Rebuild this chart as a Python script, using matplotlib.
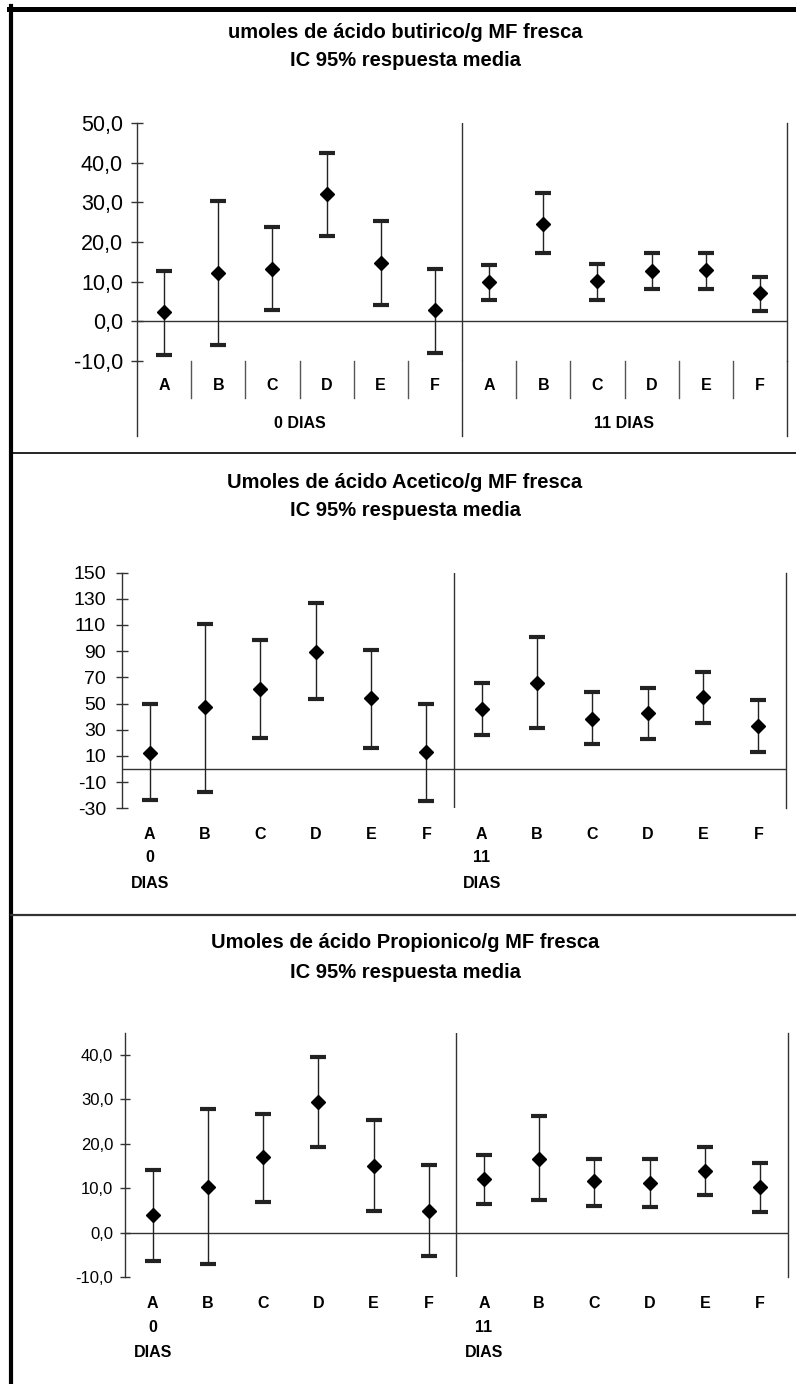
import matplotlib
matplotlib.use('Agg')
import matplotlib.pyplot as plt
import matplotlib.transforms as mtransforms
from matplotlib.lines import Line2D

plt.rcParams['font.family'] = ['Liberation Sans', 'DejaVu Sans']

# Data
cats = ['A', 'B', 'C', 'D', 'E', 'F']
days = ['0', '11']

but_mean = [2.3, 12.2, 13.2, 32.0, 14.8, 2.8, 9.8, 24.5, 10.2, 12.6, 13.0, 7.1]
but_upper = [12.8, 30.4, 23.8, 42.5, 25.4, 13.2, 14.1, 32.4, 14.4, 17.2, 17.2, 11.3]
but_lower = [-8.4, -6.0, 2.9, 21.5, 4.2, -7.9, 5.5, 17.2, 5.5, 8.2, 8.2, 2.7]

ace_mean = [12.1, 47.2, 61.2, 89.2, 54.1, 12.6, 46.0, 66.0, 38.3, 42.6, 54.9, 32.5]
ace_upper = [49.8, 110.6, 98.4, 126.9, 90.8, 49.8, 65.8, 100.7, 58.4, 62.2, 74.4, 52.3]
ace_lower = [-23.5, -17.2, 23.6, 53.5, 16.2, -24.8, 26.1, 31.2, 19.0, 22.8, 35.0, 12.6]

pro_mean = [3.9, 10.4, 17.0, 29.4, 15.1, 5.0, 12.0, 16.7, 11.6, 11.2, 13.8, 10.2]
pro_upper = [14.1, 27.9, 26.8, 39.6, 25.4, 15.2, 17.4, 26.2, 16.7, 16.7, 19.2, 15.6]
pro_lower = [-6.3, -7.0, 6.9, 19.2, 5.0, -5.2, 6.5, 7.3, 6.1, 5.7, 8.4, 4.7]

but_ticks = [-10, 0, 10, 20, 30, 40, 50]
ace_ticks = [-30, -10, 10, 30, 50, 70, 90, 110, 130, 150]
pro_ticks = [-10, 0, 10, 20, 30, 40]

titles = [
    ('umoles de ácido butirico/g MF fresca', 'IC 95% respuesta media'),
    ('Umoles de ácido Acetico/g MF fresca', 'IC 95% respuesta media'),
    ('Umoles de ácido Propionico/g MF fresca', 'IC 95% respuesta media'),
]

W, H = 796, 1384
fig = plt.figure(figsize=(W / 100, H / 100), dpi=100)


def add_ax(left, right, top, bottom):
    return fig.add_axes([left / W, 1 - bottom / H, (right - left) / W, (bottom - top) / H])


def below(top, bottom, ypx):
    # pixel row below the axes -> axes fraction
    return -(ypx - bottom) / (bottom - top)


def comma(v, dec):
    return f'{v:.{dec}f}'.replace('.', ',')


def draw_panel(ax, mean, lower, upper, ylim, yticks, dec, tsize, tlen, tpad):
    x = [i + 0.5 for i in range(len(mean))]
    err = [[m - l for m, l in zip(mean, lower)], [u - m for m, u in zip(mean, upper)]]
    ax.errorbar(x, mean, yerr=err, fmt='D', color='black', ms=7,
                ecolor='#222222', elinewidth=1, capsize=5.8, capthick=3, zorder=3)
    ax.set_xlim(0, 12)
    ax.set_ylim(*ylim)
    ax.axhline(0, color='#333333', lw=1)
    ax.axvline(6, color='#333333', lw=1)
    for s in ['top', 'bottom']:
        ax.spines[s].set_visible(False)
    for s in ['left', 'right']:
        ax.spines[s].set_color('#333333')
        ax.spines[s].set_linewidth(1)
    ax.set_xticks([])
    ax.set_yticks(yticks, [comma(t, dec) for t in yticks])
    ax.tick_params(axis='y', direction='inout', length=tlen, width=1,
                   pad=tpad, labelsize=tsize, color='#333333')
    ax.patch.set_alpha(0)


cat_labels = cats + cats
lab_size = 11.5

# ---- panel 1: butirico
t1, b1 = 123, 361
ax1 = add_ax(137, 787, t1, b1)
draw_panel(ax1, but_mean, but_lower, but_upper, (-10, 50), but_ticks, 1, 15.5, 8, 6)
tr1 = mtransforms.blended_transform_factory(ax1.transData, ax1.transAxes)
for xv in [0, 6, 12]:
    ax1.plot([xv, xv], [0, below(t1, b1, 436)], transform=tr1, clip_on=False,
             color='#333333', lw=1)
for xv in [1, 2, 3, 4, 5, 7, 8, 9, 10, 11]:
    ax1.plot([xv, xv], [0, below(t1, b1, 398)], transform=tr1, clip_on=False,
             color='#555555', lw=1)
for i, c in enumerate(cat_labels):
    ax1.text(i + 0.5, below(t1, b1, 385), c, transform=tr1, ha='center', va='center',
             fontsize=lab_size, fontweight='bold')
for xv, d in zip([3, 9], days):
    ax1.text(xv, below(t1, b1, 423), d + ' DIAS', transform=tr1, ha='center', va='center',
             fontsize=lab_size, fontweight='bold')

# ---- panel 2: acetico
t2, b2 = 572.5, 808.3
ax2 = add_ax(122, 786, t2, b2)
draw_panel(ax2, ace_mean, ace_lower, ace_upper, (-30, 150), ace_ticks, 0, 14, 9, 7)

# ---- panel 3: propionico
t3, b3 = 1032.7, 1277.3
ax3 = add_ax(125, 787.7, t3, b3)
draw_panel(ax3, pro_mean, pro_lower, pro_upper, (-10, 45), pro_ticks, 1, 12, 7, 5)

for ax, t, b, ys in [(ax2, t2, b2, (834.3, 858, 883)), (ax3, t3, b3, (1303.3, 1327.7, 1352.3))]:
    tr = mtransforms.blended_transform_factory(ax.transData, ax.transAxes)
    for i, c in enumerate(cat_labels):
        ax.text(i + 0.5, below(t, b, ys[0]), c, transform=tr, ha='center', va='center',
                fontsize=lab_size, fontweight='bold')
    for xv, d in zip([0.5, 6.5], days):
        ax.text(xv, below(t, b, ys[1]), d, transform=tr, ha='center', va='center',
                fontsize=lab_size, fontweight='bold')
        ax.text(xv, below(t, b, ys[2]), 'DIAS', transform=tr, ha='center', va='center',
                fontsize=lab_size, fontweight='bold')

# titles
for (l1, l2), (y1, y2) in zip(titles, [(33, 60), (482, 510), (943, 972)]):
    fig.text(405 / W, 1 - y1 / H, l1, ha='center', va='center', fontsize=14.5, fontweight='bold')
    fig.text(405 / W, 1 - y2 / H, l2, ha='center', va='center', fontsize=14.5, fontweight='bold')

# frame lines
fig.add_artist(Line2D([11 / W, 11 / W], [0, 1 - 6 / H], transform=fig.transFigure,
                      color='black', lw=3))
fig.add_artist(Line2D([9 / W, 1], [1 - 8.5 / H, 1 - 8.5 / H], transform=fig.transFigure,
                      color='black', lw=3.6))
fig.add_artist(Line2D([11 / W, 1], [1 - 453.3 / H, 1 - 453.3 / H], transform=fig.transFigure,
                      color='black', lw=1.2))
fig.add_artist(Line2D([11 / W, 1], [1 - 915 / H, 1 - 915 / H], transform=fig.transFigure,
                      color='#333333', lw=1.6))

fig.savefig('out.png', dpi=100)
